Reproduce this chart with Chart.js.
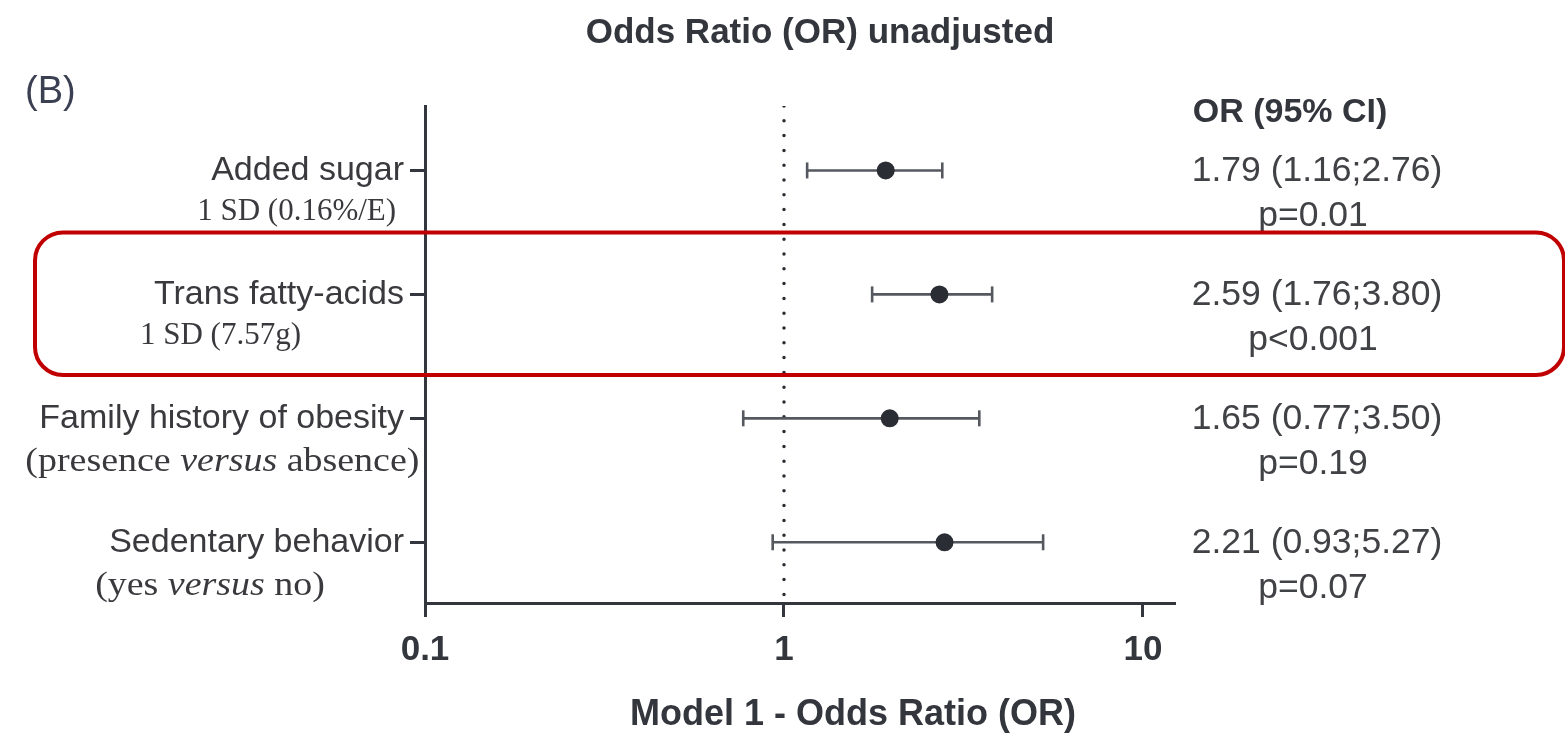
<!DOCTYPE html>
<html>
<head>
<meta charset="utf-8">
<script src="https://cdn.jsdelivr.net/npm/chart.js@4.4.1/dist/chart.umd.min.js"></script>
<style>
  html, body { margin: 0; padding: 0; background: #ffffff; }
  #wrap { width: 1565px; height: 733px; }
</style>
</head>
<body>
<div id="wrap"><canvas id="c" width="1565" height="733"></canvas></div>
<script>
// ---------------- data ----------------
const categories = ['Added sugar', 'Trans fatty-acids', 'Family history of obesity', 'Sedentary behavior'];
const subLabels = ['1 SD (0.16%/E)', '1 SD (7.57g)', '(presence *versus* absence)', '(yes *versus* no)'];
const pointEstimates = [1.92, 2.71, 1.97, 2.80];   // plotted dot positions
const ciLower = [1.16, 1.76, 0.77, 0.93];
const ciUpper = [2.76, 3.80, 3.50, 5.27];
const orLabels = ['1.79 (1.16;2.76)', '2.59 (1.76;3.80)', '1.65 (0.77;3.50)', '2.21 (0.93;5.27)'];
const pLabels = ['p=0.01', 'p<0.001', 'p=0.19', 'p=0.07'];
const xTicks = [0.1, 1, 10];
const xTickLabels = ['0.1', '1', '10'];
const highlightedRow = 1;
const chartTitle = 'Odds Ratio (OR) unadjusted';
const panelLabel = '(B)';
const xAxisTitle = 'Model 1 - Odds Ratio (OR)';
const columnHeader = 'OR (95% CI)';
const referenceValue = 1;

// ---------------- styles ----------------
const SANS = "'Liberation Sans', Arial, sans-serif";
const SERIF = "'Liberation Serif', 'Times New Roman', serif";
const INK = '#34363d';
const TEXT = '#3a3a3e';
const Y_MIN = -0.52, Y_MAX = 3.49;

// CI line datasets (one per row) with vertical caps as point markers
const ciDatasets = categories.map((c, i) => ({
  label: 'CI ' + c,
  data: [{ x: ciLower[i], y: i }, { x: ciUpper[i], y: i }],
  showLine: true,
  borderColor: '#55585f',
  borderWidth: 2.6,
  pointStyle: 'line',
  rotation: 90,
  pointRadius: 8,
  pointBorderWidth: 2.6,
  pointBorderColor: '#55585f',
  order: 1
}));

const pointDataset = {
  label: 'OR',
  data: categories.map((c, i) => ({ x: pointEstimates[i], y: i })),
  pointRadius: 9,
  pointBackgroundColor: '#2b2d35',
  pointBorderWidth: 0,
  showLine: false,
  order: 0
};

const refDataset = {
  label: 'ref',
  data: [{ x: referenceValue, y: Y_MIN }, { x: referenceValue, y: Y_MAX }],
  showLine: true,
  borderColor: '#2b2d35',
  borderWidth: 3.5,
  borderDash: [0, 14.8],
  borderCapStyle: 'round',
  pointRadius: 0,
  order: 2
};

function drawRich(ctx, text, x, y, size, align, sx) {
  // segments marked with *...* are italic
  const parts = text.split('*').map((t, k) => ({ t, it: k % 2 === 1 })).filter(p => p.t.length);
  const fontOf = p => (p.it ? 'italic ' : '') + size + 'px ' + SERIF;
  let w = 0;
  parts.forEach(p => { ctx.font = fontOf(p); w += ctx.measureText(p.t).width; });
  let start = align === 'right' ? x - w * sx : x;
  ctx.save();
  ctx.translate(start, y);
  ctx.scale(sx, 1);
  ctx.textAlign = 'left';
  ctx.textBaseline = 'middle';
  let cx = 0;
  parts.forEach(p => {
    ctx.font = fontOf(p);
    ctx.fillText(p.t, cx, 0);
    cx += ctx.measureText(p.t).width;
  });
  ctx.restore();
  return w * sx;
}

const annotatePlugin = {
  id: 'annotate',
  afterDraw(chart) {
    const ctx = chart.ctx;
    const ys = chart.scales.y;
    const area = chart.chartArea;
    ctx.save();
    ctx.fillStyle = TEXT;

    // title
    ctx.font = 'bold 35px ' + SANS;
    ctx.textAlign = 'center';
    ctx.textBaseline = 'middle';
    ctx.fillStyle = INK;
    ctx.fillText(chartTitle, 820, 33);

    // panel label
    ctx.font = '38px ' + SANS;
    ctx.textAlign = 'left';
    ctx.fillStyle = '#3b3f52';
    ctx.fillText(panelLabel, 25, 93);

    // x axis title
    ctx.font = 'bold 36px ' + SANS;
    ctx.textAlign = 'center';
    ctx.fillStyle = INK;
    ctx.fillText(xAxisTitle, 853, 715);

    // column header
    ctx.font = 'bold 34px ' + SANS;
    ctx.fillText(columnHeader, 1290, 113);

    // row labels and values
    categories.forEach((c, i) => {
      const yp = ys.getPixelForValue(i);
      ctx.fillStyle = TEXT;
      ctx.font = '34px ' + SANS;
      ctx.textAlign = 'right';
      ctx.textBaseline = 'middle';
      const rightX = area.left - 21;
      ctx.fillText(c, rightX, yp);
      const mainW = ctx.measureText(c).width;
      const isVersus = subLabels[i].indexOf('*') >= 0;
      const subSize = isVersus ? 33 : 31;
      const sx = isVersus ? 1.15 : 1.0;
      drawRich(ctx, subLabels[i], rightX - mainW - 14, yp + (isVersus ? 44 : 41), subSize, 'left', sx);

      ctx.font = '35.5px ' + SANS;
      ctx.textAlign = 'center';
      ctx.fillStyle = '#414246';
      ctx.fillText(orLabels[i], 1317, yp + 1);
      ctx.fillText(pLabels[i], 1313, yp + 46);
    });

    // highlight box around the highlighted row
    const top = ys.getPixelForValue(highlightedRow - 0.5);
    const bot = ys.getPixelForValue(highlightedRow + 0.65);
    ctx.strokeStyle = '#c00000';
    ctx.lineWidth = 4;
    ctx.beginPath();
    ctx.roundRect(35, top, 1564 - 35, bot - top, 28);
    ctx.stroke();
    ctx.restore();
  }
};

new Chart(document.getElementById('c'), {
  type: 'scatter',
  data: { datasets: [pointDataset, ...ciDatasets, refDataset] },
  options: {
    responsive: false,
    devicePixelRatio: 1,
    animation: false,
    events: [],
    layout: { padding: { top: 106, right: 391, left: 0, bottom: 0 } },
    plugins: { legend: { display: false }, tooltip: { enabled: false }, title: { display: false } },
    scales: {
      x: {
        type: 'logarithmic',
        position: 'bottom',
        min: 0.1,
        max: 12.2,
        afterBuildTicks: s => { s.ticks = xTicks.map(v => ({ value: v })); },
        afterFit: s => { s.height = 130; },
        ticks: {
          autoSkip: false,
          maxRotation: 0,
          padding: 12,
          color: INK,
          font: { family: SANS, size: 35, weight: 'bold' },
          callback: (v) => { const k = xTicks.indexOf(v); return k >= 0 ? xTickLabels[k] : ''; }
        },
        grid: { drawOnChartArea: false, drawTicks: true, tickLength: 14, lineWidth: 3, color: INK },
        border: { display: true, width: 3, color: INK }
      },
      y: {
        type: 'linear',
        reverse: true,
        min: Y_MIN,
        max: Y_MAX,
        afterBuildTicks: s => { s.ticks = categories.map((c, i) => ({ value: i })); },
        afterFit: s => { s.width = 425; },
        ticks: { callback: () => '', padding: 0 },
        grid: { drawOnChartArea: false, drawTicks: true, tickLength: 15, lineWidth: 3, color: INK },
        border: { display: true, width: 3, color: INK }
      }
    }
  },
  plugins: [annotatePlugin]
});
</script>
</body>
</html>
